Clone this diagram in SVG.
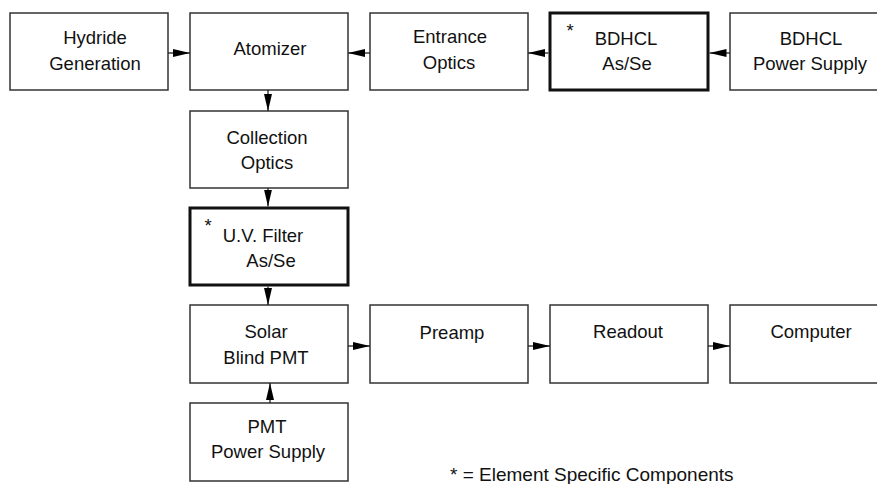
<svg xmlns="http://www.w3.org/2000/svg" width="877" height="484" viewBox="0 0 877 484">
<style>
.box{fill:#fff;stroke:#333;stroke-width:1.5}
.thick{fill:#fff;stroke:#111;stroke-width:3}
text{font-family:"Liberation Sans",Arial,sans-serif;font-size:18.5px;fill:#111;text-anchor:middle}
.l{text-anchor:start;font-size:19px}
.conn line{stroke:#222;stroke-width:1.3}
</style>
<defs>
<marker id="ah" markerUnits="userSpaceOnUse" markerWidth="18" markerHeight="9" refX="17" refY="4" orient="auto">
<path d="M0,0 L17,4 L0,8 z" fill="#000"/>
</marker>
</defs>
<rect width="877" height="484" fill="#fff"/>
<g id="hydride"><rect class="box" x="10" y="13" width="158" height="77"/><text x="95" y="44">Hydride</text><text x="95" y="70">Generation</text></g>
<g id="atomizer"><rect class="box" x="190" y="13" width="158" height="77"/><text x="270" y="55">Atomizer</text></g>
<g id="entrance"><rect class="box" x="370" y="13" width="158" height="77"/><text x="450" y="43">Entrance</text><text x="449" y="69">Optics</text></g>
<g id="bdhcl"><rect class="thick" x="550" y="13" width="158" height="77"/><text x="570" y="37" font-size="16">*</text><text x="626" y="45">BDHCL</text><text x="627" y="70">As/Se</text></g>
<g id="bdhclps"><rect class="box" x="730" y="13" width="159" height="77"/><text x="811" y="45">BDHCL</text><text x="810" y="70">Power Supply</text></g>
<g id="collection"><rect class="box" x="190" y="111" width="158" height="77"/><text x="267" y="144">Collection</text><text x="267" y="169">Optics</text></g>
<g id="uvfilter"><rect class="thick" x="190" y="208" width="158" height="77"/><text x="208" y="232" font-size="16">*</text><text x="263" y="242">U.V. Filter</text><text x="271" y="267">As/Se</text></g>
<g id="solar"><rect class="box" x="190" y="305" width="158" height="78"/><text x="266" y="338">Solar</text><text x="266" y="364">Blind PMT</text></g>
<g id="preamp"><rect class="box" x="370" y="305" width="158" height="78"/><text x="452" y="339">Preamp</text></g>
<g id="readout"><rect class="box" x="550" y="305" width="158" height="78"/><text x="628" y="338">Readout</text></g>
<g id="computer"><rect class="box" x="730" y="305" width="159" height="78"/><text x="811" y="338">Computer</text></g>
<g id="pmtps"><rect class="box" x="190" y="403" width="158" height="78"/><text x="267" y="433">PMT</text><text x="268" y="458">Power Supply</text></g>
<g class="conn">
<line x1="168" y1="53" x2="190" y2="53" marker-end="url(#ah)"/>
<line x1="370" y1="53" x2="348" y2="53" marker-end="url(#ah)"/>
<line x1="548.5" y1="53" x2="528" y2="53" marker-end="url(#ah)"/>
<line x1="730" y1="53" x2="709.5" y2="53" marker-end="url(#ah)"/>
<line x1="268" y1="90" x2="268" y2="111" marker-end="url(#ah)"/>
<line x1="268" y1="188" x2="268" y2="206.5" marker-end="url(#ah)"/>
<line x1="268" y1="286.5" x2="268" y2="305" marker-end="url(#ah)"/>
<line x1="270" y1="403" x2="270" y2="383" marker-end="url(#ah)"/>
<line x1="348" y1="346" x2="370" y2="346" marker-end="url(#ah)"/>
<line x1="528" y1="346" x2="550" y2="346" marker-end="url(#ah)"/>
<line x1="708" y1="346" x2="730" y2="346" marker-end="url(#ah)"/>
</g>
<text class="l" x="450" y="481">* = Element Specific Components</text>
</svg>
